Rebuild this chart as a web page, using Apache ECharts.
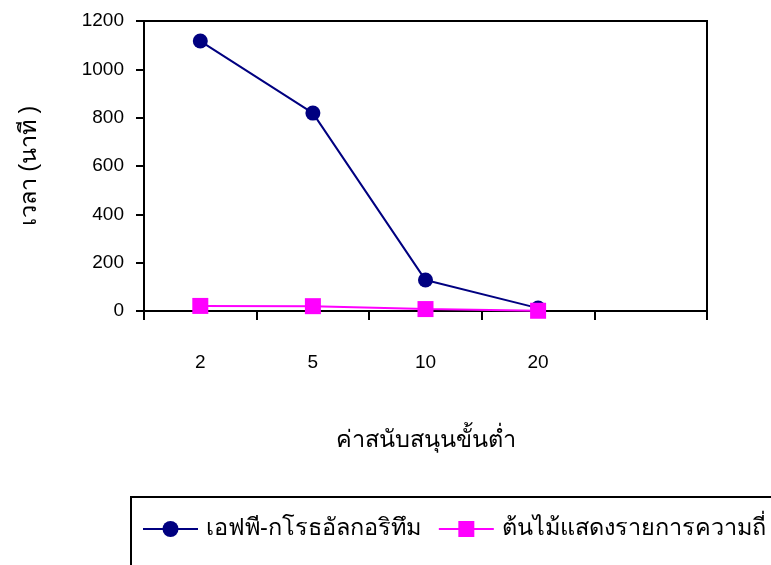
<!DOCTYPE html>
<html>
<head>
<meta charset="utf-8">
<script src="https://cdn.jsdelivr.net/npm/echarts@6/dist/echarts.min.js"></script>
<style>
html,body{margin:0;padding:0;background:#fff;}
#chart{width:771px;height:565px;}
</style>
</head>
<body>
<div id="chart"></div>
<script>
const categories = ['2', '5', '10', '20', ''];
const fpGrowth = [1117, 819, 128, 12];
const freqTree = [21, 20, 8, 1];
const yTicks = [0, 200, 400, 600, 800, 1000, 1200];
const seriesNames = ['เอฟพี-กโรธอัลกอริทึม', 'ต้นไม้แสดงรายการความถี่'];
const xTitle = 'ค่าสนับสนุนขั้นต่ำ';
const yTitle = 'เวลา (นาที )';

const FONT = 'Liberation Sans, Arial, sans-serif';
const chart = echarts.init(document.getElementById('chart'));
chart.setOption({
  animation: false,
  backgroundColor: '#ffffff',
  grid: {
    left: 144, right: 64, top: 21, bottom: 254,
    show: true, borderColor: '#000', borderWidth: 2, backgroundColor: 'transparent'
  },
  xAxis: {
    type: 'category',
    data: categories,
    boundaryGap: true,
    name: xTitle,
    nameLocation: 'middle',
    nameGap: 118,
    nameTextStyle: { color: '#000', fontSize: 23.5, fontFamily: FONT },
    axisLine: { lineStyle: { color: '#000', width: 2 } },
    axisTick: { show: true, length: 9, lineStyle: { color: '#000', width: 2 } },
    axisLabel: { color: '#000', fontSize: 19, fontFamily: FONT, margin: 42 },
    splitLine: { show: false }
  },
  yAxis: {
    type: 'value',
    min: yTicks[0],
    max: yTicks[yTicks.length - 1],
    interval: 200,
    name: yTitle,
    nameLocation: 'middle',
    nameRotate: 90,
    nameGap: 102,
    nameTextStyle: { color: '#000', fontSize: 23.5, fontFamily: FONT },
    axisLine: { show: true, lineStyle: { color: '#000', width: 2 } },
    axisTick: { show: true, length: 8, lineStyle: { color: '#000', width: 2 } },
    axisLabel: { color: '#000', fontSize: 19, fontFamily: FONT, margin: 20, formatter: function (v) { return String(v); } },
    splitLine: { show: false }
  },
  legend: {
    left: 142,
    top: 517,
    padding: 0,
    itemWidth: 55,
    itemHeight: 20,
    itemGap: 17,
    textStyle: { color: '#000', fontSize: 23.5, fontFamily: FONT, padding: [0, 0, 0, 3] },
    data: seriesNames
  },
  graphic: [{
    type: 'rect',
    shape: { x: 131, y: 497, width: 700, height: 120 },
    style: { fill: 'none', stroke: '#000', lineWidth: 2 },
    z: 0
  }],
  series: [
    {
      name: seriesNames[0],
      type: 'line',
      data: fpGrowth,
      symbol: 'circle',
      symbolSize: 15,
      lineStyle: { color: '#000080', width: 2 },
      itemStyle: { color: '#000080' },
      z: 2
    },
    {
      name: seriesNames[1],
      type: 'line',
      data: freqTree,
      symbol: 'rect',
      symbolSize: 16,
      lineStyle: { color: '#FF00FF', width: 2 },
      itemStyle: { color: '#FF00FF' },
      z: 3
    }
  ]
});
</script>
</body>
</html>
